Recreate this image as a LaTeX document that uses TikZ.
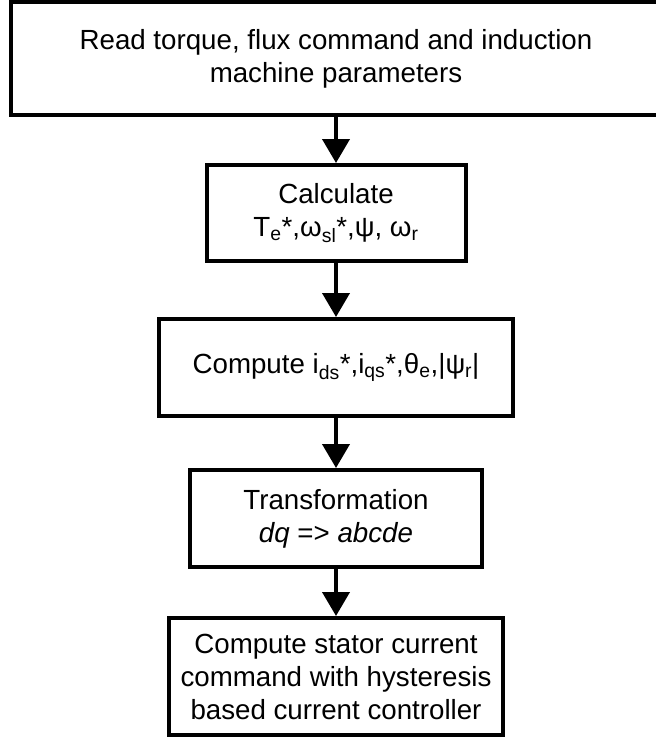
\documentclass[tikz,border=0pt]{standalone}
\usepackage{fontspec}
\setmainfont{Liberation Sans}
\usetikzlibrary{arrows.meta}
\tikzset{
  stepbox/.style={draw, rectangle, line width=4pt, align=center, inner sep=0pt,
    font=\fontsize{27.7}{33}\selectfont},
  flow/.style={line width=4pt, -{Triangle[length=24pt,width=27pt]}},
}
\begin{document}
\begin{tikzpicture}[x=1pt,y=-1pt]
  \useasboundingbox (0,0) rectangle (656,742);

  \node[stepbox, minimum width=650pt, minimum height=113pt] (read) at (336,58.5)
    {Read torque, flux command and induction\\machine parameters};
  \node[stepbox, minimum width=259pt, minimum height=96pt] (calc) at (336,213)
    {Calculate\\T\textsubscript{e}*,ω\textsubscript{sl}*,ψ, ω\textsubscript{r}};
  \node[stepbox, minimum width=354pt, minimum height=97pt] (comp) at (336,367.5)
    {Compute i\textsubscript{ds}*,i\textsubscript{qs}*,θ\textsubscript{e},|ψ\textsubscript{r}|};
  \node[stepbox, minimum width=292pt, minimum height=97pt] (trans) at (336,518.5)
    {Transformation\\\textit{dq} => \textit{abcde}};
  \node[stepbox, minimum width=334pt, minimum height=117pt] (ctrl) at (336,676.5)
    {Compute stator current\\command with hysteresis\\based current controller};

  \draw[flow] (read) -- (calc);
  \draw[flow] (calc) -- (comp);
  \draw[flow] (comp) -- (trans);
  \draw[flow] (trans) -- (ctrl);
\end{tikzpicture}
\end{document}
